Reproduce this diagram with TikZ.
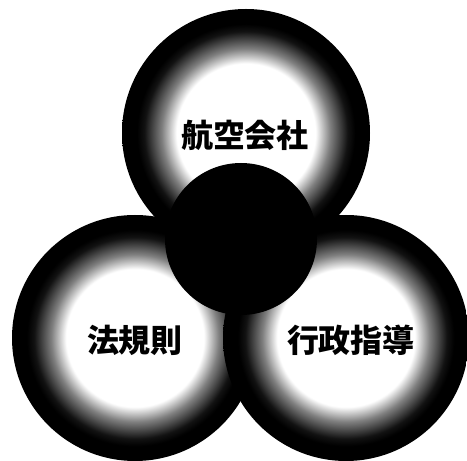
\documentclass[tikz,border=0pt]{standalone}
\usepackage{fontspec}
\newfontfamily\cjk{Noto Sans CJK JP}[BoldFont={Noto Sans CJK JP Black}]
\pgfdeclareradialshading{ring}{\pgfpoint{0bp}{0bp}}{%
  color(0bp)=(white); color(14bp)=(white); color(17bp)=(black!50);
  color(20.5bp)=(black!93); color(22bp)=(black); color(50bp)=(black)}
\tikzset{
  ringcircle/.style={circle, draw=none, shading=ring, minimum size=#1, inner sep=0pt},
  hub/.style={circle, fill=black, minimum size=152pt, inner sep=0pt},
  lbl/.style={font=\cjk\bfseries\fontsize{32}{32}\selectfont, text=black}
}
\begin{document}
\begin{tikzpicture}[x=1pt,y=1pt]
\useasboundingbox[fill=white] (0,0) rectangle (467,461);
\node[ringcircle=248pt] (top) at (246,328) {};
\node[ringcircle=246pt] (left) at (135,123) {};
\node[ringcircle=246pt] (right) at (346,123) {};
\node[hub] (center) at (241,222) {};
\node[lbl] (t1) at (245,326) {航空会社};
\node[lbl] (t2) at (135,121) {法規則};
\node[lbl] (t3) at (351,121) {行政指導};
\end{tikzpicture}
\end{document}
